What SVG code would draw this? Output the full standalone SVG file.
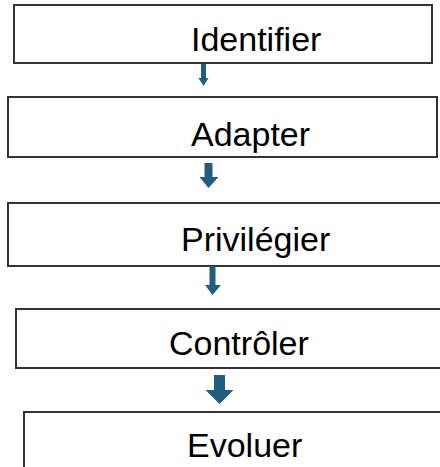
<svg xmlns="http://www.w3.org/2000/svg" width="440" height="467" viewBox="0 0 440 467">
  <style>
    .box { fill: #ffffff; stroke: #333333; stroke-width: 2; }
    .label { font-family: "Liberation Sans", Arial, sans-serif; font-size: 34px; fill: #000000; }
    .arrow { fill: #215d7e; }
  </style>
  <rect width="440" height="467" fill="#ffffff"/>

  <g id="identifier">
    <rect class="box" x="14" y="5" width="418" height="58"/>
    <text class="label" x="191" y="51">Identifier</text>
  </g>
  <g id="adapter">
    <rect class="box" x="8" y="97" width="429" height="60"/>
    <text class="label" x="191" y="146">Adapter</text>
  </g>
  <g id="privilegier">
    <rect class="box" x="8" y="203" width="440" height="63"/>
    <text class="label" x="181" y="251">Privilégier</text>
  </g>
  <g id="controler">
    <rect class="box" x="16" y="309" width="440" height="59"/>
    <text class="label" x="169" y="355">Contrôler</text>
  </g>
  <g id="evoluer">
    <rect class="box" x="24" y="412" width="440" height="70"/>
    <text class="label" x="187" y="457">Evoluer</text>
  </g>

  <g id="connectors">
    <!-- block arrows: shaft then triangular head -->
    <path class="arrow" d="M201,64 H206 V78 H208.5 L203.5,86 L198.5,78 H201 Z"/>
    <path class="arrow" d="M204.5,163 H212.5 V177 H218.5 L208.5,188 L199.5,177 H204.5 Z"/>
    <path class="arrow" d="M209.5,266 H215.5 V285 H221 L212.5,295 L205,285 H209.5 Z"/>
    <path class="arrow" d="M214,375 H225 V390 H233.5 L219.5,404 L205.5,390 H214 Z"/>
  </g>
</svg>
